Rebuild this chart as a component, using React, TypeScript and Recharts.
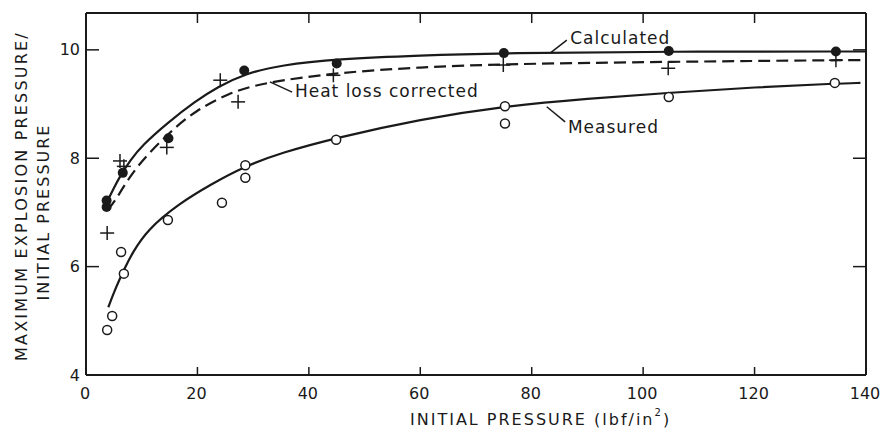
import React from 'react';
import {
  ComposedChart,
  Line,
  Scatter,
  XAxis,
  YAxis,
  ReferenceLine,
  ReferenceDot,
} from 'recharts';

// measured points
const calculatedPts = [
  { x: 3.7, y: 7.22 }, { x: 3.7, y: 7.1 }, { x: 6.6, y: 7.73 }, { x: 14.8, y: 8.37 },
  { x: 28.4, y: 9.62 }, { x: 45, y: 9.75 }, { x: 75, y: 9.94 }, { x: 104.6, y: 9.98 },
  { x: 134.6, y: 9.97 },
];
const correctedPts = [
  { x: 3.8, y: 6.62 }, { x: 6.1, y: 7.95 }, { x: 6.8, y: 7.85 }, { x: 14.5, y: 8.2 },
  { x: 24.1, y: 9.44 }, { x: 27.3, y: 9.04 }, { x: 44.4, y: 9.53 }, { x: 74.9, y: 9.72 },
  { x: 104.5, y: 9.66 }, { x: 134.6, y: 9.81 },
];
const measuredPts = [
  { x: 3.8, y: 4.83 }, { x: 4.7, y: 5.09 }, { x: 6.3, y: 6.27 }, { x: 6.8, y: 5.87 },
  { x: 14.7, y: 6.86 }, { x: 24.4, y: 7.18 }, { x: 28.6, y: 7.87 }, { x: 28.6, y: 7.64 },
  { x: 44.9, y: 8.34 }, { x: 75.2, y: 8.96 }, { x: 75.2, y: 8.64 }, { x: 104.6, y: 9.13 },
  { x: 134.4, y: 9.39 },
];

// fitted curves
const calculatedCurve = [
  { x: 3.8, y: 7.2 }, { x: 5, y: 7.45 }, { x: 6, y: 7.65 }, { x: 8, y: 7.97 },
  { x: 10, y: 8.23 }, { x: 14.7, y: 8.66 }, { x: 19.6, y: 9.05 }, { x: 23.7, y: 9.32 },
  { x: 28.5, y: 9.56 }, { x: 35, y: 9.72 }, { x: 45, y: 9.83 }, { x: 60, y: 9.9 },
  { x: 75, y: 9.94 }, { x: 105, y: 9.97 }, { x: 140, y: 9.97 },
];
const correctedCurve = [
  { x: 3.9, y: 7.05 }, { x: 5.2, y: 7.2 }, { x: 8.8, y: 7.84 }, { x: 15.4, y: 8.52 },
  { x: 19.6, y: 8.87 }, { x: 25.5, y: 9.2 }, { x: 31.6, y: 9.39 }, { x: 45, y: 9.58 },
  { x: 60, y: 9.68 }, { x: 75, y: 9.74 }, { x: 105, y: 9.78 }, { x: 135, y: 9.81 },
  { x: 140, y: 9.81 },
];
const measuredCurve = [
  { x: 4, y: 5.25 }, { x: 5, y: 5.52 }, { x: 6, y: 5.76 }, { x: 7, y: 5.98 }, { x: 8.3, y: 6.25 },
  { x: 11, y: 6.68 }, { x: 16.5, y: 7.15 }, { x: 22.6, y: 7.53 }, { x: 28.5, y: 7.85 },
  { x: 35, y: 8.1 }, { x: 45, y: 8.38 }, { x: 60, y: 8.72 }, { x: 75, y: 8.96 },
  { x: 90, y: 9.1 }, { x: 105, y: 9.21 }, { x: 120, y: 9.31 }, { x: 135, y: 9.38 },
  { x: 139, y: 9.39 },
];

const xTicks = [0, 20, 40, 60, 80, 100, 120, 140];
const yTicks = [4, 6, 8, 10];

const FONT = '"DejaVu Sans", sans-serif';
const INK = '#1a1a1a';

const BottomTick = (props: any) => {
  const { x, y, payload } = props;
  return (
    <g>
      <line x1={x} x2={x} y1={y} y2={y - 8} stroke={INK} strokeWidth={1.5} />
      <text x={x - 1} y={y + 18} textAnchor="middle" dominantBaseline="central"
        fontFamily={FONT} fontSize={16} fill={INK}>{payload.value}</text>
    </g>
  );
};
const TopTick = (props: any) => {
  const { x, y } = props;
  return <line x1={x} x2={x} y1={y} y2={y + 10} stroke={INK} strokeWidth={1.5} />;
};
const LeftTick = (props: any) => {
  const { x, y, payload } = props;
  return (
    <g>
      <line x1={x} x2={x + 13} y1={y} y2={y} stroke={INK} strokeWidth={1.5} />
      <text x={x - 6} y={y} textAnchor="end" dominantBaseline="central"
        fontFamily={FONT} fontSize={16} fill={INK}>{payload.value}</text>
    </g>
  );
};
const RightTick = (props: any) => {
  const { x, y } = props;
  return <line x1={x} x2={x - 13} y1={y} y2={y} stroke={INK} strokeWidth={1.5} />;
};

const FilledDot = (p: any) => <circle cx={p.cx} cy={p.cy} r={5} fill={INK} />;
const OpenDot = (p: any) => (
  <circle cx={p.cx} cy={p.cy} r={4.5} fill="#fff" stroke={INK} strokeWidth={1.5} />
);
const Plus = (p: any) => (
  <g stroke={INK} strokeWidth={1.5}>
    <line x1={p.cx - 7} x2={p.cx + 7} y1={p.cy} y2={p.cy} />
    <line x1={p.cx} x2={p.cx} y1={p.cy - 7} y2={p.cy + 7} />
  </g>
);
const Nothing = () => <g />;

const note = (text: string) => (props: any) => {
  const { viewBox } = props;
  return (
    <text x={viewBox.x} y={viewBox.y} dominantBaseline="central" fontFamily={FONT}
      fontSize={17} letterSpacing={1} fill={INK}>{text}</text>
  );
};

export default function App() {
  return (
    <div style={{ position: 'absolute', left: 0, top: 0, width: 881, height: 430, background: '#fff' }}>
      <ComposedChart width={881} height={430} margin={{ top: 12, right: 14, bottom: 0, left: 0 }}>
        <XAxis xAxisId="b" type="number" dataKey="x" domain={[0, 140]} ticks={xTicks}
          height={55} tickSize={0} tickMargin={0} tickLine={false} tick={<BottomTick />}
          axisLine={{ stroke: INK, strokeWidth: 2 }} />
        <XAxis xAxisId="t" orientation="top" type="number" dataKey="x" domain={[0, 140]}
          ticks={xTicks.slice(1, -1)} height={1} tickSize={0} tickMargin={0} tickLine={false}
          tick={<TopTick />} axisLine={{ stroke: INK, strokeWidth: 2 }} />
        <YAxis yAxisId="l" type="number" dataKey="y" domain={[4, 10.68]} ticks={yTicks}
          width={86} tickSize={0} tickMargin={0} tickLine={false} tick={<LeftTick />}
          axisLine={{ stroke: INK, strokeWidth: 2 }} />
        <YAxis yAxisId="r" orientation="right" type="number" dataKey="y" domain={[4, 10.68]}
          ticks={yTicks} width={1} tickSize={0} tickMargin={0} tickLine={false}
          tick={<RightTick />} axisLine={{ stroke: INK, strokeWidth: 2 }} />

        {/* invisible series so the top/right frame axes get drawn */}
        <Scatter xAxisId="t" yAxisId="r" data={calculatedPts} dataKey="y" shape={<Nothing />}
          isAnimationActive={false} />

        <Line xAxisId="b" yAxisId="l" data={calculatedCurve} dataKey="y" type="basis"
          stroke={INK} strokeWidth={2.2} dot={false} isAnimationActive={false} />
        <Line xAxisId="b" yAxisId="l" data={correctedCurve} dataKey="y" type="basis"
          stroke={INK} strokeWidth={2.2} strokeDasharray="12 6" dot={false} isAnimationActive={false} />
        <Line xAxisId="b" yAxisId="l" data={measuredCurve} dataKey="y" type="basis"
          stroke={INK} strokeWidth={2.2} dot={false} isAnimationActive={false} />

        <Scatter xAxisId="b" yAxisId="l" data={calculatedPts} dataKey="y" shape={<FilledDot />}
          isAnimationActive={false} />
        <Scatter xAxisId="b" yAxisId="l" data={correctedPts} dataKey="y" shape={<Plus />}
          isAnimationActive={false} />
        <Scatter xAxisId="b" yAxisId="l" data={measuredPts} dataKey="y" shape={<OpenDot />}
          isAnimationActive={false} />

        <ReferenceLine xAxisId="b" yAxisId="l" segment={[{ x: 83.3, y: 9.94 }, { x: 86.3, y: 10.18 }]}
          stroke={INK} strokeWidth={1.5} />
        <ReferenceLine xAxisId="b" yAxisId="l" segment={[{ x: 33.0, y: 9.41 }, { x: 37.0, y: 9.22 }]}
          stroke={INK} strokeWidth={1.5} />
        <ReferenceLine xAxisId="b" yAxisId="l" segment={[{ x: 82.7, y: 8.95 }, { x: 86.0, y: 8.67 }]}
          stroke={INK} strokeWidth={1.5} />

        <ReferenceDot xAxisId="b" yAxisId="l" x={86.9} y={10.22} r={0} fill="none" stroke="none"
          label={{ content: note('Calculated') }} />
        <ReferenceDot xAxisId="b" yAxisId="l" x={37.5} y={9.24} r={0} fill="none" stroke="none"
          label={{ content: note('Heat loss corrected') }} />
        <ReferenceDot xAxisId="b" yAxisId="l" x={86.5} y={8.58} r={0} fill="none" stroke="none"
          label={{ content: note('Measured') }} />
      </ComposedChart>
      <svg style={{ position: 'absolute', left: 0, top: 0 }} width={881} height={430} pointerEvents="none">
        <text x={410} y={419} dominantBaseline="central" fontFamily={FONT} fontSize={16}
          letterSpacing={2} fill={INK}>
          INITIAL PRESSURE (lbf/in<tspan fontSize={10} dy={-7}>2</tspan><tspan dy={7}>)</tspan>
        </text>
        <text transform="translate(21,196) rotate(-90)" textAnchor="middle" dominantBaseline="central"
          fontFamily={FONT} fontSize={16} letterSpacing={2.2} fill={INK}>MAXIMUM EXPLOSION PRESSURE/</text>
        <text transform="translate(43,212) rotate(-90)" textAnchor="middle" dominantBaseline="central"
          fontFamily={FONT} fontSize={16} letterSpacing={2} fill={INK}>INITIAL PRESSURE</text>
      </svg>
    </div>
  );
}
